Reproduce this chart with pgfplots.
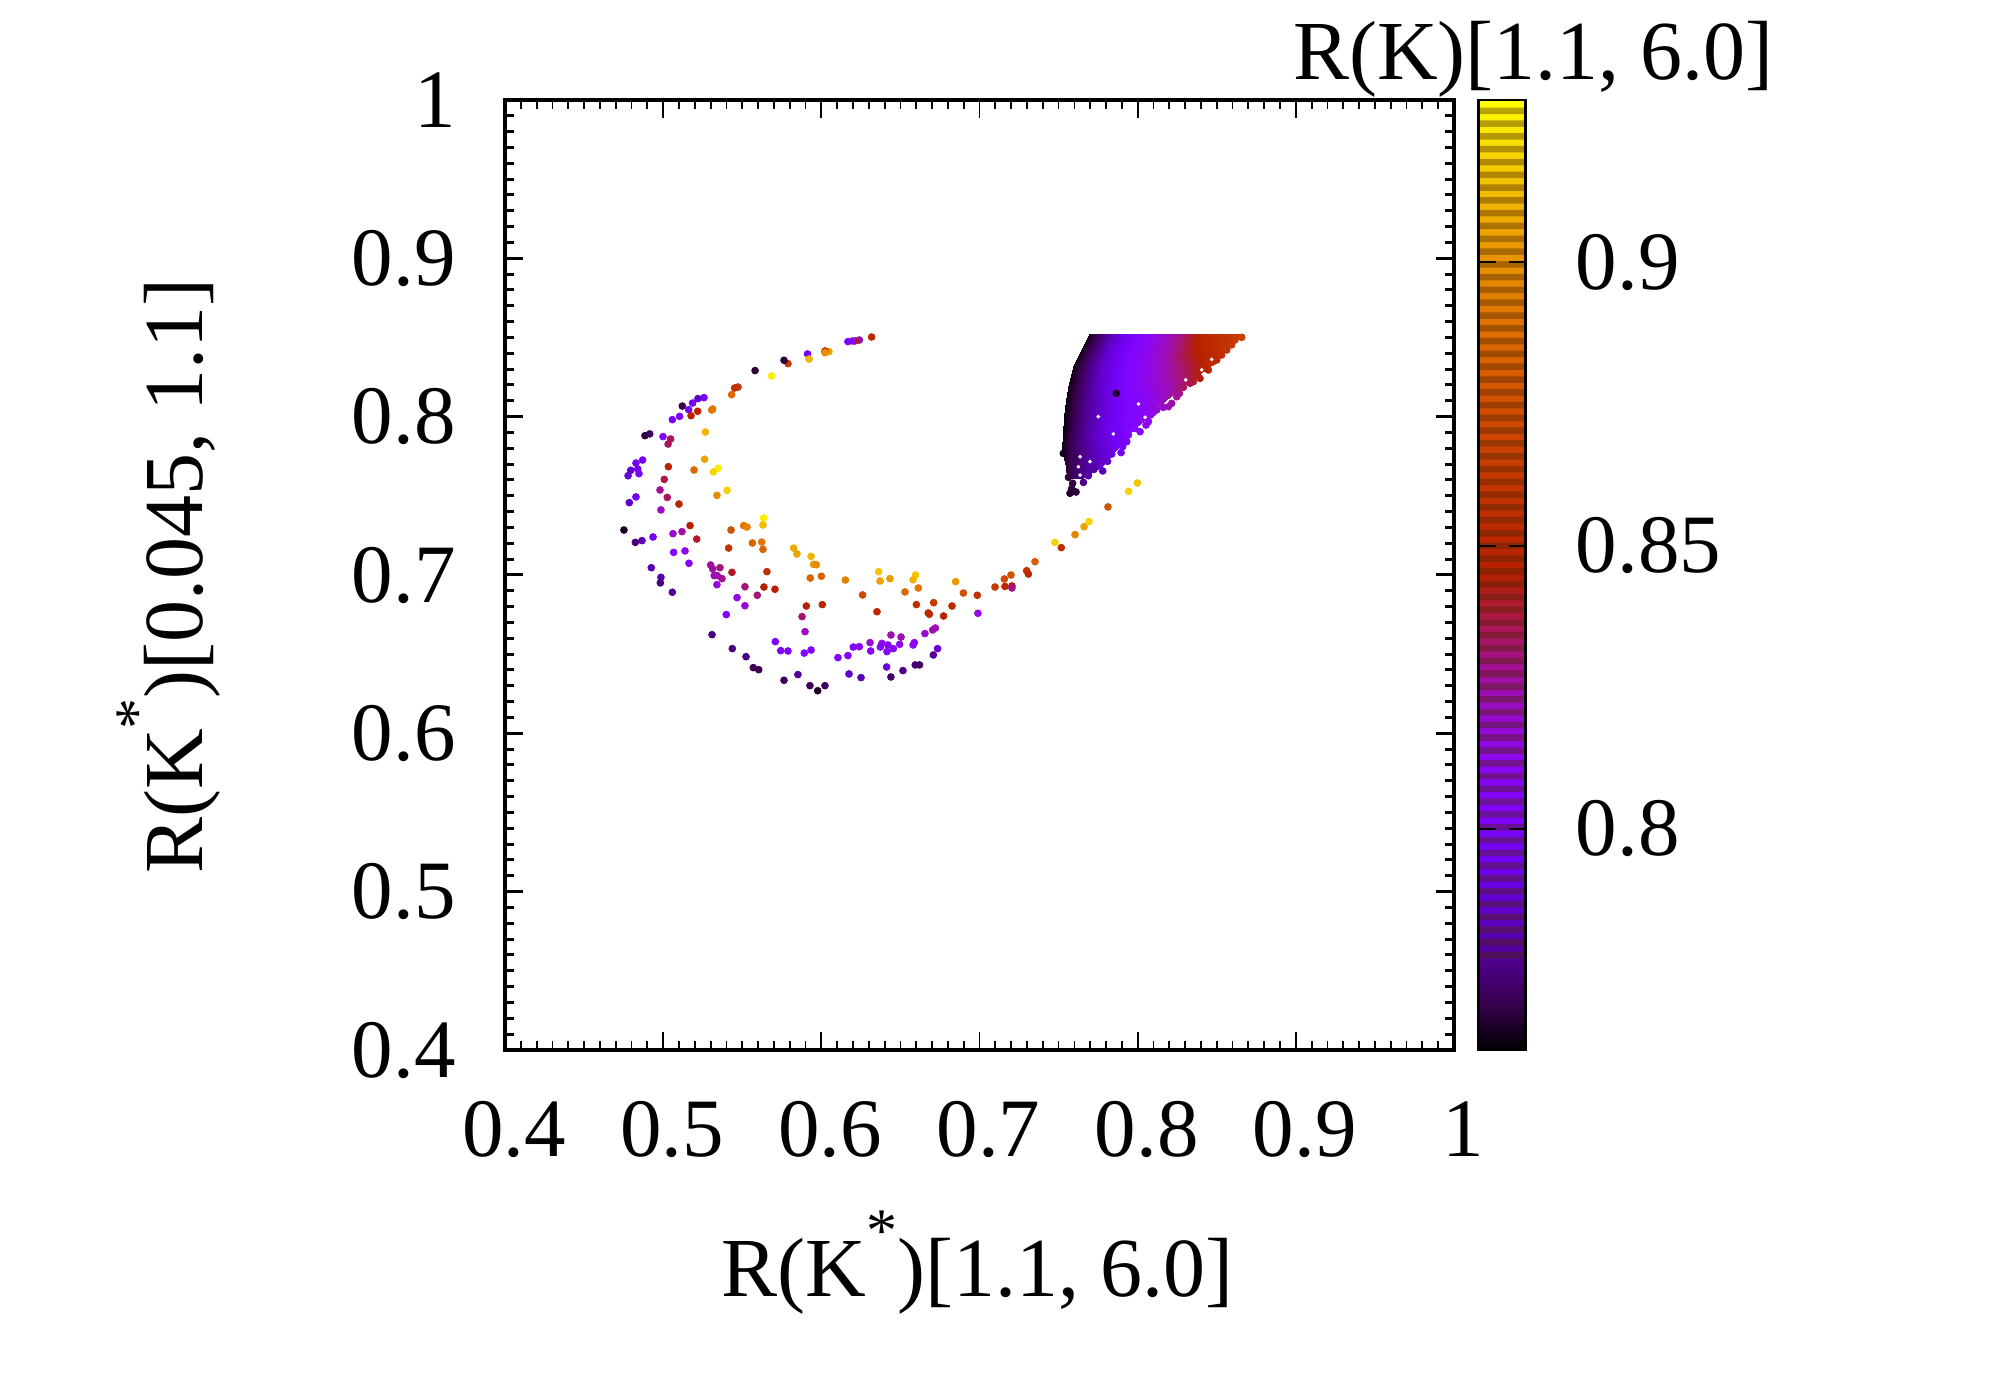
\documentclass[border=0pt]{standalone}
\usepackage{fontspec}
\setmainfont{Liberation Serif}
\usepackage{pgfplots}
\usepackage{pgfplotstable}
\pgfplotsset{compat=1.18}

% gnuplot palette rgbformulae 7,5,15, sampled every 0.05
\pgfplotsset{colormap={gp}{
rgb=(0,0,0) rgb=(.224,0,.309) rgb=(.316,.001,.588) rgb=(.387,.003,.809)
rgb=(.447,.008,.951) rgb=(.5,.016,1) rgb=(.548,.027,.951) rgb=(.592,.043,.809)
rgb=(.632,.064,.588) rgb=(.671,.091,.309) rgb=(.707,.125,0) rgb=(.742,.166,0)
rgb=(.775,.216,0) rgb=(.806,.275,0) rgb=(.837,.343,0) rgb=(.866,.422,0)
rgb=(.894,.512,0) rgb=(.922,.614,0) rgb=(.949,.729,0) rgb=(.975,.857,0)
rgb=(1,1,0)}}

\pgfplotstableread{
x y v
.6318 .8503 .852
.6240 .8484 .822
.6213 .8478 .845
.6198 .8478 .810
.6168 .8474 .803
.6048 .8411 .905
.6023 .8415 .862
.6023 .8404 .898
.5913 .8396 .798
.5922 .8364 .910
.5789 .8335 .862
.5764 .8356 .767
.5686 .8257 .925
.5581 .8291 .767
.5473 .8187 .858
.5452 .8181 .858
.5433 .8139 .885
.5313 .8048 .890
.5307 .8042 .890
.5258 .8120 .797
.5220 .8114 .785
.5186 .8086 .797
.5161 .8044 .802
.5218 .8034 .848
.5176 .8006 .848
.5121 .8067 .770
.5104 .8002 .802
.5058 .7981 .797
.4915 .7891 .772
.4885 .7880 .768
.4999 .7874 .805
.5047 .7859 .835
.5031 .7827 .835
.5267 .7903 .910
.5262 .7731 .905
.5033 .7684 .847
.5195 .7663 .885
.5349 .7674 .925
.5317 .7651 .918
.4870 .7726 .797
.4828 .7707 .797
.4795 .7661 .787
.4839 .7669 .795
.4847 .7640 .797
.4778 .7627 .787
.5007 .7604 .838
.4980 .7537 .828
.5026 .7490 .835
.5100 .7448 .848
.4828 .7493 .795
.4786 .7457 .785
.4986 .7411 .822
.5340 .7503 .898
.5404 .7535 .918
.5635 .7360 .925
.5631 .7316 .912
.5509 .7312 .890
.5530 .7303 .895
.5429 .7284 .875
.5170 .7312 .847
.5119 .7274 .826
.5062 .7261 .820
.4936 .7240 .797
.4866 .7217 .782
.4824 .7206 .775
.4752 .7284 .765
.5212 .7227 .840
.5564 .7202 .883
.5623 .7208 .890
.5631 .7162 .883
.5414 .7170 .858
.5825 .7170 .908
.5846 .7133 .905
.5935 .7118 .910
.5951 .7067 .902
.5968 .7065 .898
.5930 .6981 .884
.6000 .6992 .884
.6152 .6968 .895
.6362 .7021 .915
.6371 .6962 .905
.6434 .6977 .903
.6596 .7000 .915
.6580 .6970 .910
.6613 .6918 .890
.6529 .6893 .885
.6261 .6874 .870
.6849 .6958 .902
.6898 .6886 .874
.6986 .6872 .858
.7098 .6924 .862
.7157 .6975 .872
.7161 .6928 .850
.7205 .6931 .845
.7205 .6918 .830
.7199 .7000 .875
.7298 .7027 .858
.7309 .7006 .850
.7351 .7084 .880
.7477 .7206 .918
.7517 .7173 .855
.7604 .7255 .895
.7661 .7305 .905
.7692 .7337 .918
.7812 .7430 .875
.7943 .7528 .918
.7998 .7581 .915
.5300 .7063 .826
.5313 .7038 .826
.5359 .7046 .832
.5435 .7017 .840
.5656 .7021 .856
.5163 .7074 .808
.5138 .7152 .812
.5066 .7143 .805
.4925 .7046 .781
.4986 .6985 .781
.4982 .6950 .775
.5058 .6891 .778
.5323 .6996 .824
.5342 .6996 .824
.5372 .6977 .828
.5340 .6939 .818
.5517 .6926 .832
.5637 .6924 .845
.5707 .6910 .847
.5595 .6872 .832
.5467 .6857 .812
.5517 .6806 .817
.5399 .6750 .800
.5905 .6804 .847
.6006 .6813 .850
.5878 .6737 .832
.5897 .6642 .822
.6352 .6768 .850
.6601 .6813 .856
.6710 .6825 .862
.6826 .6804 .852
.6676 .6760 .852
.6683 .6752 .852
.6773 .6741 .846
.6990 .6758 .815
.6721 .6665 .824
.6704 .6653 .824
.6655 .6630 .820
.6504 .6608 .824
.6440 .6621 .824
.6308 .6573 .818
.6383 .6568 .812
.6421 .6558 .810
.6495 .6562 .812
.6588 .6573 .810
.6580 .6558 .810
.6373 .6545 .808
.6455 .6535 .808
.6415 .6516 .805
.6312 .6520 .806
.6202 .6545 .807
.6240 .6547 .810
.6168 .6491 .803
.6105 .6478 .803
.5935 .6526 .803
.5892 .6507 .803
.5789 .6520 .802
.5743 .6522 .800
.5709 .6579 .800
.5309 .6623 .775
.5437 .6535 .775
.5524 .6484 .775
.5570 .6415 .770
.5604 .6402 .770
.5764 .6335 .770
.5852 .6371 .778
.5928 .6301 .770
.5977 .6269 .765
.6023 .6301 .772
.6175 .6375 .785
.6251 .6352 .781
.6413 .6419 .790
.6440 .6356 .772
.6516 .6396 .776
.6594 .6432 .775
.6621 .6432 .772
.6708 .6495 .778
.6735 .6535 .788
.8658 .8501 .866
.8615 .8484 .864
.8594 .8453 .862
.8563 .8421 .858
.8531 .8389 .857
.8500 .8358 .853
.8474 .8345 .852
.8447 .8295 .849
.8426 .8305 .848
.8394 .8242 .844
.8373 .8257 .842
.8352 .8221 .840
.8331 .8211 .836
.8289 .8185 .834
.8264 .8147 .830
.8247 .8126 .828
.8215 .8084 .826
.8194 .8063 .824
.8162 .8059 .820
.8120 .8042 .817
.8099 .8027 .815
.8082 .8011 .812
.8068 .7969 .810
.8053 .7947 .810
.8015 .7905 .805
.7983 .7926 .806
.7941 .7884 .802
.7931 .7842 .800
.7905 .7811 .798
.7895 .7773 .795
.7836 .7764 .790
.7810 .7718 .787
.7779 .7657 .783
.7724 .7667 .780
.7688 .7627 .780
.7657 .7585 .776
.7562 .7617 .768
.7589 .7579 .768
.7583 .7547 .768
.7572 .7516 .766
.7610 .7524 .767
.7530 .7768 .764
.7865 .8147 .766
}\scatterpts

% the dense cluster: rows of equal y, left edge to right edge
\pgfplotstableread{
x y v
.7694 .8522 .764
.7783 .8522 .775
.7888 .8522 .790
.8057 .8522 .808
.8247 .8522 .828
.8415 .8522 .850
.8672 .8522 .866
.7640 .8421 .764
.7730 .8421 .775
.7846 .8421 .790
.8015 .8421 .808
.8205 .8421 .826
.8373 .8421 .846
.8550 .8421 .860
.7593 .8316 .763
.7688 .8316 .775
.7815 .8316 .790
.7983 .8316 .807
.8162 .8316 .822
.8331 .8316 .838
.8450 .8316 .852
.7568 .8211 .763
.7667 .8211 .775
.7783 .8211 .788
.7931 .8211 .803
.8099 .8211 .817
.8247 .8211 .828
.8320 .8211 .838
.7547 .8105 .763
.7636 .8105 .773
.7752 .8105 .785
.7888 .8105 .798
.8015 .8105 .808
.8120 .8105 .817
.8180 .8105 .824
.7536 .8000 .763
.7614 .8000 .772
.7720 .8000 .782
.7825 .8000 .793
.7930 .8000 .802
.8015 .8000 .808
.8060 .8000 .815
.7530 .7895 .763
.7593 .7895 .771
.7678 .7895 .780
.7762 .7895 .789
.7846 .7895 .795
.7920 .7895 .801
.7950 .7895 .804
.7524 .7790 .764
.7583 .7790 .771
.7646 .7790 .776
.7709 .7790 .782
.7772 .7790 .787
.7836 .7790 .792
.7860 .7790 .797
.7545 .7684 .766
.7583 .7684 .770
.7625 .7684 .774
.7667 .7684 .778
.7709 .7684 .781
.7751 .7684 .785
.7770 .7684 .788
.7551 .7611 .768
.7568 .7611 .770
.7585 .7611 .771
.7604 .7611 .773
.7621 .7611 .775
.7640 .7611 .777
.7657 .7611 .778
}\cluster

\begin{document}
\begin{tikzpicture}
\fontsize{42}{50}\selectfont
\path[use as bounding box] (0pt,0pt) rectangle (1000pt,700pt);

\begin{axis}[
at={(252.5pt,175pt)}, anchor=south west,
scale only axis, width=474.5pt, height=475pt,
xmin=0.4, xmax=1, ymin=0.4, ymax=1,
xtick={0.4,0.5,0.6,0.7,0.8,0.9,1}, ytick={0.4,0.5,0.6,0.7,0.8,0.9,1},
minor tick num=9, tick align=inside, xtick pos=both, ytick pos=both,
xticklabel pos=bottom, yticklabel pos=left,
major tick length=9pt, minor tick length=4.5pt,
axis line style={line width=1.8pt},
xtick style={black, line width=.9pt}, ytick style={black, line width=1.5pt},
/pgf/number format/assume math mode=true,
tick label style={font=\fontsize{41.5}{50}\selectfont},
x tick label style={anchor=north, xshift=4.5pt, yshift=-11.5pt},
y tick label style={anchor=east, xshift=-10.5pt, yshift=0pt},
label style={font=\fontsize{42}{50}\selectfont},
xlabel={R(K\raisebox{22.5pt}{\fontsize{31}{31}\selectfont *})[1.1, 6.0]},
ylabel={R(K\raisebox{22.5pt}{\fontsize{31}{31}\selectfont *})[0.045, 1.1]},
xlabel style={at={(axis description cs:0.498,-0.26)}, anchor=base},
ylabel style={at={(axis description cs:-0.319,0.499)}, anchor=base},
colormap name=gp, point meta min=0.761, point meta max=0.9286,
]
\addplot[surf, shader=interp, mesh/cols=7, point meta=explicit]
  table[x=x, y=y, meta=v] {\cluster};
\addplot[scatter, only marks, mark=*, mark size=1.7pt, point meta=explicit,
  scatter/use mapped color={draw=mapped color, fill=mapped color}]
  table[x=x, y=y, meta=v] {\scatterpts};
% small gaps left in the cluster where no point falls
\addplot[only marks, mark=*, mark size=.7pt, white] coordinates {
  (.7751,.8000)(.7846,.7891)(.7636,.7747)(.7699,.7716)(.7625,.7684)(.7636,.7631)
  (.8047,.7996)(.8005,.8080)(.8405,.8295)(.8304,.8232)(.8468,.8362)};
\end{axis}

% colour box, with the darker bands of the original raster
\begin{axis}[
at={(739.25pt,175pt)}, anchor=south west,
scale only axis, width=23.5pt, height=475pt,
xmin=0, xmax=1, ymin=0.761, ymax=0.9286,
xtick=\empty, ytick={0.8,0.85,0.9},
tick align=inside, ytick pos=both, yticklabel pos=right,
major tick length=8.5pt, axis on top,
axis line style={line width=1.3pt},
ytick style={black, line width=1pt},
/pgf/number format/assume math mode=true,
tick label style={font=\fontsize{41.5}{50}\selectfont},
y tick label style={anchor=west, xshift=11pt},
colormap name=gp, point meta min=0.761, point meta max=0.9286,
title={R(K)[1.1, 6.0]},
title style={font=\fontsize{42}{50}\selectfont, at={(axis description cs:1.17,1.0085)}, anchor=base},
]
\addplot[surf, shader=interp, mesh/cols=2, point meta=y]
  coordinates {(0,.761)(1,.761)(0,.9286)(1,.9286)};
\addplot[xbar, bar width=3.25pt, bar shift=0pt, draw=none, fill={rgb,1:red,.3;green,.15;blue,0}, fill opacity=.4]
  coordinates {
  (1,.92668)(1,.92442)(1,.92217)(1,.91991)(1,.91765)(1,.91540)(1,.91314)(1,.91088)(1,.90862)(1,.90637)
  (1,.90411)(1,.90185)(1,.89960)(1,.89734)(1,.89508)(1,.89283)(1,.89057)(1,.88831)(1,.88605)(1,.88380)
  (1,.88154)(1,.87928)(1,.87703)(1,.87477)(1,.87251)(1,.87026)(1,.86800)(1,.86574)(1,.86348)(1,.86123)
  (1,.85897)(1,.85671)(1,.85446)(1,.85220)(1,.84994)(1,.84769)(1,.84543)(1,.84317)(1,.84091)(1,.83866)
  (1,.83640)(1,.83414)(1,.83189)(1,.82963)(1,.82737)(1,.82512)(1,.82286)(1,.82060)(1,.81834)(1,.81609)
  (1,.81383)(1,.81157)(1,.80932)(1,.80706)(1,.80480)(1,.80255)(1,.80029)(1,.79803)(1,.79577)(1,.79352)
  (1,.79126)(1,.78900)(1,.78675)(1,.78449)(1,.78223)(1,.77998)(1,.77772)
  };
\end{axis}
\end{tikzpicture}
\end{document}
